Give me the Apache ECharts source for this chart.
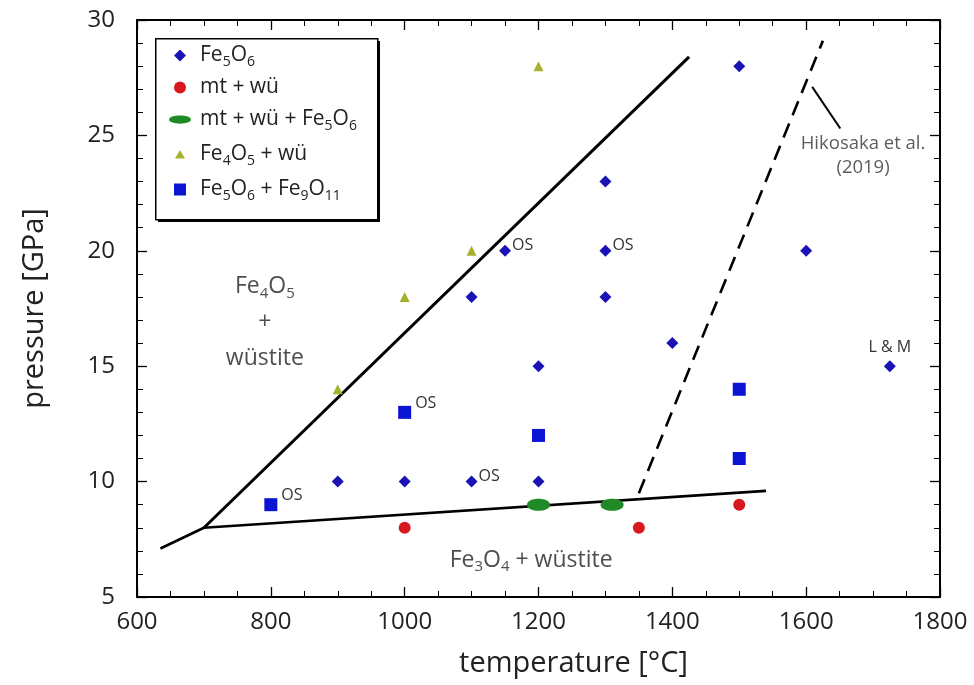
<!DOCTYPE html>
<html>
<head>
<meta charset="utf-8">
<script src="https://cdn.jsdelivr.net/npm/echarts@6/dist/echarts.min.js"></script>
<style>
  html, body { margin: 0; padding: 0; background: #fff; }
  #chart { width: 974px; height: 685px; }
</style>
</head>
<body>
<div id="chart"></div>
<script>
// Fe-O phase relations: run conditions and phase boundaries
const FONT = '"Open Sans", "DejaVu Sans", sans-serif';

// Fe5O6 runs
const fe5o6T = [1500, 1300, 1150, 1300, 1600, 1100, 1300, 1400, 1200, 1725, 900, 1000, 1100, 1200];
const fe5o6P = [28, 23, 20, 20, 20, 18, 18, 16, 15, 15, 10, 10, 10, 10];
const fe5o6Note = ['', '', 'OS', 'OS', '', '', '', '', '', 'L & M', '', '', 'OS', ''];

// magnetite + wüstite runs
const mtWuT = [1000, 1350, 1500];
const mtWuP = [8, 8, 9];

// magnetite + wüstite + Fe5O6 runs
const mtWuFeT = [1200, 1310];
const mtWuFeP = [9, 9];

// Fe4O5 + wüstite runs
const fe4o5T = [900, 1000, 1100, 1200];
const fe4o5P = [14, 18, 20, 28];

// Fe5O6 + Fe9O11 runs
const fe9T = [800, 1000, 1200, 1500, 1500];
const fe9P = [9, 13, 12, 14, 11];
const fe9Note = ['OS', 'OS', '', '', ''];

// phase boundaries [T, P]
const boundaryLow = [[635, 7.1], [700, 8.0], [1540, 9.6]];
const boundaryFe4O5 = [[700, 8.0], [1425, 28.4]];
const boundaryHikosaka = [[1350, 9.5], [1625, 29.1]];
const leader = [[1609, 27.1], [1651, 25.3]];

// axis ticks
const xTicks = [600, 800, 1000, 1200, 1400, 1600, 1800];
const yTicks = [5, 10, 15, 20, 25, 30];

const COLORS = {
  fe5o6: '#1a12b4',
  mtWu: '#d7181f',
  mtWuFe: '#1f8a26',
  fe4o5: '#a4b230',
  fe9: '#0c14d4'
};

// legend text with lowered subscripts
const legendRich = {
  n: { fontSize: 21, color: '#222', fontFamily: FONT, lineHeight: 26 },
  s: { fontSize: 14, color: '#222', fontFamily: FONT, lineHeight: 14, padding: [13, 0, 0, 0] }
};

function pts(xs, ys, notes, noteStyle) {
  return xs.map((x, i) => {
    const item = { value: [x, ys[i]] };
    if (notes && notes[i]) {
      item.label = Object.assign({ show: true, formatter: notes[i] }, noteStyle(notes[i]));
    }
    return item;
  });
}
const noteText = { fontSize: 16, color: '#333', fontFamily: FONT };
const diamondNote = (t) => t === 'L & M'
  ? Object.assign({ position: 'top', distance: 5 }, noteText)
  : Object.assign({ position: 'right', distance: 1, offset: [0, -5] }, noteText);
const squareNote = () => Object.assign({ position: 'right', distance: 4, offset: [0, -9] }, noteText);

// green lens marker
const lensPath = 'path://M0,7 C0,-0.5 22,-0.5 22,7 C22,14.5 0,14.5 0,7 Z';

// legend icons: a fixed 26x14 box (corner moves) with the marker drawn at its own size
const BOX = 'M0,0 M26,14 ';
const legendIcons = {
  diamond: 'path://' + BOX + 'M11,1 L17,7 L11,13 L5,7 Z',
  circle: 'path://' + BOX + 'M5,7 A6,6 0 1,1 17,7 A6,6 0 1,1 5,7 Z',
  lens: 'path://' + BOX + 'M0,7 C0,1.5 22,1.5 22,7 C22,12.5 0,12.5 0,7 Z',
  triangle: 'path://' + BOX + 'M11,2.5 L16,11 L6,11 Z',
  square: 'path://' + BOX + 'M5,1 L17,1 L17,13 L5,13 Z'
};

const chart = echarts.init(document.getElementById('chart'));
const axisLine = { show: true, lineStyle: { color: '#000', width: 2 } };
const tick = () => ({ show: true, inside: true, length: 10, lineStyle: { color: '#000', width: 1.3 } });
const minor = (n) => ({ show: true, splitNumber: n, length: 6, lineStyle: { color: '#000', width: 1 } });
const tickLabel = { fontSize: 24, color: '#222', fontFamily: FONT, formatter: (v) => String(v) };

chart.setOption({
  animation: false,
  grid: { left: 137, right: 34, top: 20, bottom: 88 },
  xAxis: [{
    type: 'value', min: xTicks[0], max: xTicks[xTicks.length - 1], interval: 200, z: 10,
    axisLine, splitLine: { show: false },
    axisTick: tick(), minorTick: minor(4),
    axisLabel: Object.assign({ margin: 13 }, tickLabel),
    name: 'temperature [°C]', nameLocation: 'middle', nameGap: 52,
    nameTextStyle: { fontSize: 29, color: '#222', fontFamily: FONT, padding: [0, 0, 0, 70] }
  }, {
    type: 'value', position: 'top', min: xTicks[0], max: xTicks[xTicks.length - 1], interval: 200, z: 10,
    axisLine, splitLine: { show: false }, axisLabel: { show: false },
    axisTick: tick(), minorTick: minor(4)
  }],
  yAxis: [{
    type: 'value', min: yTicks[0], max: yTicks[yTicks.length - 1], interval: 5, z: 10,
    axisLine, splitLine: { show: false },
    axisTick: tick(), minorTick: minor(5),
    axisLabel: Object.assign({ margin: 22 }, tickLabel),
    name: 'pressure [GPa]', nameLocation: 'middle', nameGap: 88, nameRotate: 90,
    nameTextStyle: { fontSize: 29, color: '#222', fontFamily: FONT }
  }, {
    type: 'value', position: 'right', min: yTicks[0], max: yTicks[yTicks.length - 1], interval: 5, z: 10,
    axisLine, splitLine: { show: false }, axisLabel: { show: false },
    axisTick: tick(), minorTick: minor(5)
  }],
  // legend frame with a hard drop shadow
  graphic: [
    { type: 'rect', left: 158, top: 41, shape: { width: 222, height: 181 },
      style: { fill: '#000' } },
    { type: 'rect', left: 155, top: 38, shape: { width: 222, height: 181 },
      style: { fill: '#fff', stroke: '#000', lineWidth: 1.5 } }
  ],
  legend: {
    orient: 'vertical', left: 169, top: 42,
    padding: 0, itemGap: 8, itemWidth: 26, itemHeight: 14,
    textStyle: { rich: legendRich, fontSize: 21, color: '#222', fontFamily: FONT },
    formatter: (name) => ({
      'Fe5O6': '{n|Fe}{s|5}{n|O}{s|6}',
      'mt + wü': '{n|mt + wü}',
      'mt + wü + Fe5O6': '{n|mt + wü + Fe}{s|5}{n|O}{s|6}',
      'Fe4O5 + wü': '{n|Fe}{s|4}{n|O}{s|5}{n| + wü}',
      'Fe5O6 + Fe9O11': '{n|Fe}{s|5}{n|O}{s|6}{n| + Fe}{s|9}{n|O}{s|11}'
    })[name],
    data: [
      { name: 'Fe5O6', icon: legendIcons.diamond },
      { name: 'mt + wü', icon: legendIcons.circle },
      { name: 'mt + wü + Fe5O6', icon: legendIcons.lens },
      { name: 'Fe4O5 + wü', icon: legendIcons.triangle },
      { name: 'Fe5O6 + Fe9O11', icon: legendIcons.square }
    ]
  },
  series: [
    { type: 'line', data: boundaryLow, symbol: 'none', silent: true,
      lineStyle: { color: '#000', width: 2.6 }, z: 3 },
    { type: 'line', data: boundaryFe4O5, symbol: 'none', silent: true,
      lineStyle: { color: '#000', width: 3 }, z: 3 },
    { type: 'line', data: boundaryHikosaka, symbol: 'none', silent: true,
      lineStyle: { color: '#000', width: 2.6, type: [15, 9] }, z: 3 },
    { type: 'line', data: leader, symbol: 'none', silent: true,
      lineStyle: { color: '#000', width: 2 }, z: 3 },
    { name: 'Fe5O6', type: 'scatter', symbol: 'diamond', symbolSize: 12,
      itemStyle: { color: COLORS.fe5o6, opacity: 1 }, data: pts(fe5o6T, fe5o6P, fe5o6Note, diamondNote), z: 5 },
    { name: 'mt + wü', type: 'scatter', symbol: 'circle', symbolSize: 12,
      itemStyle: { color: COLORS.mtWu, opacity: 1 }, data: pts(mtWuT, mtWuP), z: 5 },
    { name: 'mt + wü + Fe5O6', type: 'scatter', symbol: lensPath, symbolSize: [23, 12],
      itemStyle: { color: COLORS.mtWuFe, opacity: 1 }, data: pts(mtWuFeT, mtWuFeP), z: 5 },
    { name: 'Fe4O5 + wü', type: 'scatter', symbol: 'triangle', symbolSize: 10,
      itemStyle: { color: COLORS.fe4o5, opacity: 1 }, data: pts(fe4o5T, fe4o5P), z: 5 },
    { name: 'Fe5O6 + Fe9O11', type: 'scatter', symbol: 'rect', symbolSize: 13,
      itemStyle: { color: COLORS.fe9, opacity: 1 }, data: pts(fe9T, fe9P, fe9Note, squareNote), z: 5 },
    // field and reference labels
    { type: 'scatter', symbolSize: 0, silent: true, z: 6,
      data: [
        { value: [791, 16.9], label: { show: true, position: 'inside', align: 'center',
          formatter: '{n|Fe}{s|4}{n|O}{s|5}\n{n|+}\n{n|wüstite}',
          rich: { n: { fontSize: 23, color: '#222', fontFamily: FONT, lineHeight: 36 },
                  s: { fontSize: 15, color: '#222', fontFamily: FONT, lineHeight: 15, padding: [14, 0, 0, 0] } } } },
        { value: [1189, 6.6], label: { show: true, position: 'inside', align: 'center',
          formatter: '{n|Fe}{s|3}{n|O}{s|4}{n| + wüstite}',
          rich: { n: { fontSize: 23, color: '#222', fontFamily: FONT, lineHeight: 28 },
                  s: { fontSize: 15, color: '#222', fontFamily: FONT, lineHeight: 15, padding: [14, 0, 0, 0] } } } },
        { value: [1685, 24.1], label: { show: true, position: 'inside', align: 'center',
          formatter: 'Hikosaka et al.\n(2019)', lineHeight: 24,
          fontSize: 18.5, color: '#333', fontFamily: FONT } }
      ] }
  ]
});
</script>
</body>
</html>
